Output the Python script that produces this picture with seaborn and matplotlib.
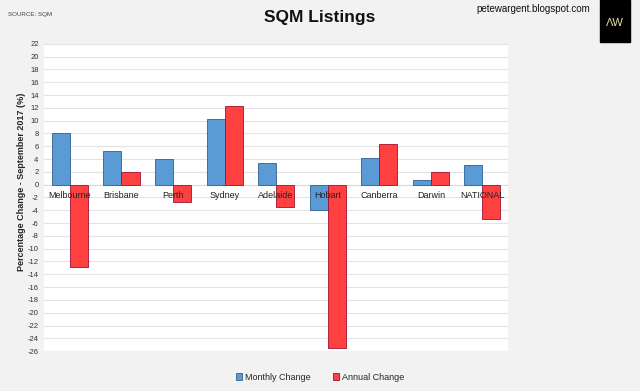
import numpy as np
import pandas as pd
import matplotlib
matplotlib.use("Agg")
import matplotlib.pyplot as plt
import seaborn as sns
from matplotlib.patches import Rectangle

cities = ["Melbourne", "Brisbane", "Perth", "Sydney", "Adelaide",
          "Hobart", "Canberra", "Darwin", "NATIONAL"]
monthly = [8.1, 5.2, 4.0, 10.2, 3.4, -3.9, 4.2, 0.7, 3.1]
annual = [-12.9, 2.0, -2.7, 12.3, -3.5, -25.5, 6.4, 1.9, -5.4]
series = ["Monthly Change", "Annual Change"]
yticks = list(range(-26, 23, 2))

df = pd.DataFrame({
    "city": cities * 2,
    "series": [series[0]] * len(cities) + [series[1]] * len(cities),
    "value": monthly + annual,
})

sns.set_theme(style="white")
plt.rcParams["font.family"] = ["Liberation Sans Narrow", "Liberation Sans", "DejaVu Sans"]

fig = plt.figure(figsize=(6.4, 3.91), dpi=100)
fig.patch.set_facecolor("#f2f2f2")
ax = fig.add_axes([0.069, 0.102, 0.725, 0.786])
ax.set_facecolor("white")

pal = {series[0]: "#5b9bd5", series[1]: "#ff4040"}
sns.barplot(data=df, x="city", y="value", hue="series", palette=pal,
            width=0.7, saturation=1, ax=ax, legend=False, zorder=3)
edges = {0: "#2f5f8f", 1: "#a01030"}
for i, cont in enumerate(ax.containers):
    for b in cont:
        b.set_edgecolor(edges[i])
        b.set_linewidth(0.6)

ax.set_ylim(-26, 22)
ax.set_xlim(-0.5, len(cities) - 0.5)
ax.set_yticks(yticks)
ax.set_yticklabels([str(t) for t in yticks], fontsize=5.5, color="#333333")
ax.yaxis.grid(True, color="#e3e3e3", linewidth=0.8, zorder=0)
ax.axhline(0, color="#d9d9d9", linewidth=0.8, zorder=1)
ax.set_xticks([])
ax.set_xlabel("")
ax.tick_params(axis="y", length=0, pad=4)
ax.set_ylabel("Percentage Change - September 2017 (%)", fontsize=6.5,
              fontweight="bold")
ax.yaxis.set_label_coords(-0.04, 0.55)
for s in ax.spines.values():
    s.set_visible(False)

for i, c in enumerate(cities):
    ax.text(i, -1.7, c, ha="center", va="center", fontsize=6.5,
            color="#222222", zorder=5)

fig.text(0.5, 0.955, "SQM Listings", ha="center", va="center",
         fontsize=12.5, fontweight="bold", color="#111111")
fig.text(0.012, 0.963, "SOURCE: SQM", ha="left", va="center",
         fontsize=4.5, color="#444444")
fig.text(0.745, 0.978, "petewargent.blogspot.com", ha="left", va="center",
         fontsize=7, color="#111111")
fig.patches.append(Rectangle((0.938, 0.893), 0.047, 0.107,
                             transform=fig.transFigure, color="black", zorder=1))
fig.text(0.961, 0.94, "ΛW", ha="center", va="center", fontsize=8,
         color="#e8e0a0", zorder=2)

handles = [Rectangle((0, 0), 1, 1, facecolor=pal[s], edgecolor=edges[k], linewidth=0.6)
           for k, s in enumerate(series)]
fig.legend(handles, series, loc="center", bbox_to_anchor=(0.5, 0.035), ncol=2,
           frameon=False, fontsize=6.5, handlelength=0.7, handleheight=0.7,
           handletextpad=0.3, columnspacing=2.5)

fig.savefig("out.png", dpi=100, facecolor=fig.get_facecolor())
